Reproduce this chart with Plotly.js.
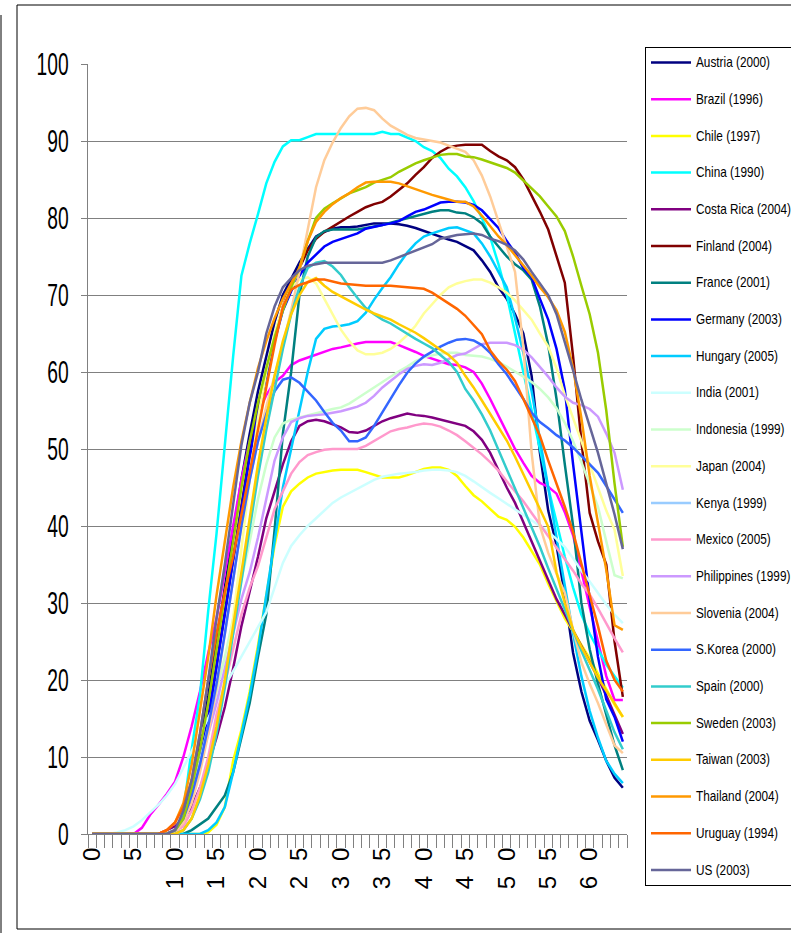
<!DOCTYPE html>
<html>
<head>
<meta charset="utf-8">
<script src="https://cdn.plot.ly/plotly-3.0.1.min.js"></script>
<style>
html,body{margin:0;padding:0;background:#fff;}
#chart .xtick text{letter-spacing:15px;}
</style>
</head>
<body>
<div id="chart" style="width:791px;height:933px;"></div>
<script>
// ages 0..64
var ages = [];
for (var i = 0; i <= 64; i++) ages.push(i);

var xTickVals = [0,5,10,15,20,25,30,35,40,45,50,55,60];
var xTickText = ['0','5','10','15','20','25','30','35','40','45','50','55','60'];
var yTickVals = [0,10,20,30,40,50,60,70,80,90,100];

var names = ['Austria (2000)','Brazil (1996)','Chile (1997)','China (1990)','Costa Rica (2004)','Finland (2004)','France (2001)','Germany (2003)','Hungary (2005)','India (2001)','Indonesia (1999)','Japan (2004)','Kenya (1999)','Mexico (2005)','Philippines (1999)','Slovenia (2004)','S.Korea (2000)','Spain (2000)','Sweden (2003)','Taiwan (2003)','Thailand (2004)','Uruguay (1994)','US (2003)'];

var colors = ['#000080','#FF00FF','#FFFF00','#00FFFF','#800080','#800000','#008080','#0000FF','#00CCFF','#CCFFFF','#CCFFCC','#FFFF99','#99CCFF','#FF99CC','#CC99FF','#FFCC99','#3366FF','#33CCCC','#99CC00','#FFCC00','#FF9900','#FF6600','#666699'];

var austria = [0,0,0,0,0,0,0,0,0,0, 0.5,2.5,6.5,12,18,25,32,39,46,52, 57.5,62,66.5,70,72.2,74.2,76,77.6,78.2,78.6, 78.8,78.8,78.9,79.1,79.3,79.3,79.3,79.2,79,78.7, 78.3,77.9,77.6,77.2,76.9,76.3,75.8,74.5,73,71, 69.5,67.5,65,59.5,49.5,42,37.5,31,23.5,18.5, 14.7,12.2,9.5,7.3,6];
var brazil = [0,0,0,0,0,0,0.8,2.5,3.8,5.2, 6.8,10,14,18.5,23.5,28,34,40,46,51, 54.5,57,58.7,59.5,60.9,61.5,61.9,62.3,62.7,63, 63.2,63.5,63.7,63.9,63.9,63.9,63.9,63.5,63.1,62.6, 62.1,61.7,61.3,61,60.9,60.6,60,58.5,56.5,54.3, 52.2,50,48.2,46.5,45.6,45.1,44.2,41.8,38.8,34, 29.5,25,20.5,17.4,17.4];
var chile = [0,0,0,0,0,0,0,0,0,0, 0,0,0,0,0.2,1.2,3.5,9.5,13.5,18.5, 24.5,31,37.5,42.5,44.5,45.5,46.3,46.8,47,47.2, 47.3,47.3,47.3,47,46.6,46.3,46.3,46.3,46.6,47, 47.4,47.6,47.6,47.3,46.5,45.2,44,43.2,42.2,41.2, 40.8,39.9,38.5,36.7,35,32.5,30.3,28,26.3,24.5, 22.8,20.8,18.8,16.8,15.2];
var china = [0,0,0,0,0,0,0,0,0,0, 0,3,11,18,29,39,51,62,72.5,76.7, 80.5,84.5,87.3,89.3,90.1,90.1,90.5,90.9,90.9,90.9, 90.9,90.9,90.9,90.9,90.9,91.2,90.9,90.9,90.5,90, 89.2,88.7,87.8,86.4,85.4,84,82.2,80,77.5,74, 70,65,60,55,50,45,40.5,36,32,28.5, 26,24,22,20.5,19];
var costaRica = [0,0,0,0,0,0,0,0,0,0.5, 1,2,3.5,6,9,12.5,16.5,21.5,27,31.5, 36,41,44.5,48,51,53,53.6,53.8,53.6,53.2, 52.8,52.2,52.1,52.4,53,53.6,54,54.3,54.6,54.4, 54.3,54.1,53.8,53.5,53.3,53,52.3,51.2,49.5,47.2, 45,43,40.6,38,35.5,33,30.5,28.5,26.5,24.5, 22.5,20.3,18,15.5,13];
var finland = [0,0,0,0,0,0,0,0,0,0, 0.3,1.5,4.5,9,15,22,29,36,43,49.5, 55,60,64.5,68.5,71.5,73.5,75.8,77.3,78.2,78.9, 79.5,80.2,80.8,81.4,81.8,82.1,82.8,83.6,84.5,85.6, 86.6,87.8,88.6,89.2,89.4,89.5,89.5,89.5,88.7,88, 87.5,86.6,85,83,80.8,78.5,75,71.6,62,51, 41.7,38,35,25,17.8];
var france = [0,0,0,0,0,0,0,0,0,0, 0,0,0.5,1.2,2,3.5,5,8,12.5,17, 23,28.5,39.5,52,60,70,75,77.5,78.3,78.5, 78.5,78.5,78.5,78.7,78.9,79.1,79.4,79.7,80,80.3, 80.6,80.8,81,81,80.7,80.6,80.1,79.3,77.6,76.3, 75,74,73.2,72,68.5,63.5,56.5,48,40,30, 24,19.5,15.5,11.5,8.3];
var germany = [0,0,0,0,0,0,0,0,0,0, 0.5,2,5,9.5,15,21.5,28.5,35.5,42.5,49, 54.5,59.5,64,68,70.5,72.5,74.2,75.3,76.3,76.9, 77.3,77.6,78,78.6,78.9,79.1,79.3,79.6,80.2,80.8, 81.1,81.6,82,82.1,82.1,82,81.7,81,79.8,78.7, 77,75.5,73.5,72.3,69.5,66.8,63,57.7,48,39, 30.5,23,17.5,15.2,12];
var hungary = [0,0,0,0,0,0,0,0,0,0, 0,0,0,0,0.5,1.5,3.5,8,13,18, 24,31,38.5,45,50,55,60,64.3,65.6,65.9, 66,66.2,66.6,67.7,69.4,70.9,72.3,74,75.5,76.7, 77.6,78,78.4,78.7,78.8,78.4,78,76.7,75,73, 71,67,62.5,57.5,51.5,45,38.5,32,26,20.5, 16,12.5,9.5,7.8,6.6];
var india = [0,0,0,0.2,0.5,1,1.8,2.8,3.8,5, 6.5,8.6,10.8,12.9,15,17.2,19.2,21.1,23,25, 26.9,28.8,32,35.2,37.4,38.8,40,41,42,43, 43.7,44.3,44.9,45.4,46,46.4,46.6,46.8,46.9,47, 47.2,47.3,47.3,47.2,47,46.5,45.8,45,44.3,43.6, 42.9,42.2,41.5,40.8,40.1,39.3,38.3,37.3,35.8,34.2, 32.8,31.3,29.8,28.5,27.4];
var indonesia = [0,0,0,0,0,0,0,0,0,0, 0.5,2,5,9.5,14,18.5,23,28,33,38, 43.5,48,51.5,53.3,53.8,54.1,54.4,54.7,55,55.2, 55.4,55.9,56.6,57.3,58,58.8,59.5,60.1,60.7,61.4, 61.9,62.2,62.4,62.5,62.5,62.2,62.1,62,61.7,61.3, 60.7,60.1,59.4,58.7,57.8,56.7,55.3,53.4,51,48.3, 45.3,42.5,38,33.6,33.2];
var japan = [0,0,0,0,0,0,0,0,0,0, 0,0.5,2,5,9,14,20,28,37,46, 54,60,65,68.5,71,72,72.3,71.5,69.5,67.5, 65.5,64,62.8,62.3,62.3,62.5,63,63.8,64.8,66, 67.6,68.8,70,71,71.5,71.8,72,72,71.6,71, 70.3,69.3,68,66.8,65,63.3,60.5,57,54,51, 48,45,42,39.5,33.5];
var kenya = [null,null,null,null,null,null,null,null,null,null, null,null,null,null,null,null,null,null,null,null, null,null,null,null,null,null,null,null,null,null, null,null,null,null,null,null,null,null,null,null, null,null,null,null,null,null,null,null,null,null, null,null,null,null,null,null,null,null,null,null, null,null,null,null,null];
var mexico = [0,0,0,0,0,0,0,0,0,0, 0.3,1,3,6,10,15.5,19.5,24,28.5,32, 34.8,38.5,42.2,44.5,46.8,48.3,49.2,49.6,49.9,50, 50,50,50,50.4,51,51.7,52.3,52.6,52.8,53.1, 53.3,53.2,52.9,52.4,51.8,51,50.2,49.3,48.3,47.2, 45.8,44.5,43.2,41.7,40.2,38.7,37.2,35.8,34.2,32.5, 31.1,29.3,27.3,25.4,23.6];
var philippines = [0,0,0,0,0,0,0,0,0,0, 0.5,2,5,9,13,17,21.5,26,30.5,34, 38.5,43.5,48.5,51.5,53.5,54,54.3,54.4,54.5,54.7, 54.9,55.2,55.5,56,56.9,58,58.9,59.7,60.4,60.8, 61,60.9,61.2,61.7,62.2,62.4,63,63.6,63.8,63.8, 63.8,63.5,62.9,61.9,60.7,59.4,58,56.8,56,55.7, 55.2,54.2,52,49.5,44.7];
var slovenia = [0,0,0,0,0,0,0,0,0,0, 0.3,1.5,4,8,13,19,26,33,40,46, 51,55.5,59.5,63.5,68,73,78.5,84,87.5,89.8, 91.7,93.2,94.2,94.3,94,92.9,92,91.4,90.8,90.4, 90.2,90,89.8,89.4,89,88.6,87.5,85.5,82.8,79.5, 76,73,63.2,49.5,40,36.5,33.8,31.3,26.5,22.3, 19.5,17,14.2,11.5,10.5];
var sKorea = [0,0,0,0,0,0,0,0,0,0, 0.5,2,5,9,14,19.5,26,33,40,46, 51,54.5,57.5,59,59.3,58.6,57.5,56.3,54.8,53.4, 52.4,51,51,51.5,53,54.8,56.6,58.3,59.9,61.1, 62,62.7,63.3,63.8,64.2,64.3,64.1,63.5,62.5,61, 59.7,58.1,56.5,54.7,53.5,52.7,51.8,51.1,50.2,49.1, 48,46.9,45.2,43.4,41.7];
var spain = [0,0,0,0,0,0,0,0,0,0, 0,0.5,2,4.5,8,13,19,26,33,40, 46.5,52.5,58,63,67.5,71,73.5,74.2,74.4,73.7, 72.6,71,69.6,68.3,67.5,66.8,66.3,65.6,64.9,64.3, 63.7,63.1,62.2,61.3,60,57.8,56.3,54.5,52.4,49.9, 47.4,44.8,42.3,39.8,37.3,34.5,31.8,29,26.3,23.8, 21.3,18.8,16,13.2,11];
var sweden = [0,0,0,0,0,0,0,0,0,0, 0.5,2,6,11,17,24,31,38,45,51, 56,60.5,64.5,68,71,73.5,77,80,81.2,81.9, 82.5,83.2,83.6,84,84.6,85,85.3,86,86.6,87.1, 87.5,87.9,88.2,88.3,88.3,88,87.9,87.6,87.2,86.8, 86.5,85.9,84.9,83.8,82.8,81.5,80.2,78.3,75,71.2, 67.5,62.5,55,45.5,37.3];
var taiwan = [0,0,0,0,0,0,0,0,0,0, 0,0.5,2,5,9,14,20,27,34,41, 48,54,59.5,64,67.5,70,71.7,72.2,71.2,70.4, 69.8,69.2,68.6,68.1,67.6,67.2,66.8,66.2,65.7,65.1, 64.4,63.6,62.9,62.2,61.2,59.5,58,56.3,54.6,52.8, 51.1,49,46.8,44.5,42.2,39.9,34,30,26.5,24.3, 22.3,20.3,18.6,17,15.2];
var thailand = [0,0,0,0,0,0,0,0,0,0.5, 1.5,4,9,16,23,31,38,45,51,56, 60.5,64,67,69.5,71.5,73.5,77,79.5,80.8,81.8, 82.6,83.2,84,84.6,84.7,84.7,84.7,84.5,84.1,83.7, 83.3,83,82.7,82.4,82.1,82.1,81.5,80.3,79,77.6, 76.5,75.2,73.8,72.5,71,69.7,68,65.2,60.5,54, 46.5,40.5,34.3,27.1,26.5];
var uruguay = [0,0,0,0,0,0,0,0,0,0.5, 1.5,3.5,7,13,20,26,31.5,36,41.5,47.5, 52.5,58,63.5,68.5,70.7,71.3,71.7,72,72,71.7, 71.5,71.4,71.3,71.2,71.2,71.2,71.2,71.1,71,70.9, 70.8,70.3,69.6,69,68.2,67.3,66.1,64.9,62.8,61.4, 60.3,58.8,56.5,54,51.7,48.5,45.5,42.5,39.2,35, 31,27,22.5,20,18.5];
var us = [0,0,0,0,0,0,0,0,0,0, 0.5,3,7,13,20,28,35,43,50.5,56, 60,65,68.5,71,72.2,73.2,73.8,74,74.2,74.2, 74.2,74.2,74.2,74.2,74.2,74.2,74.5,74.9,75.3,75.7, 76.2,76.6,77.3,77.6,77.8,77.9,78,77.8,77.3,77, 76.5,75.8,74.6,73,71.5,70,67.5,64,60.2,56.4, 52.8,49.5,45.5,41.5,37];

var series = [austria, brazil, chile, china, costaRica, finland, france, germany, hungary, india, indonesia, japan, kenya, mexico, philippines, slovenia, sKorea, spain, sweden, taiwan, thailand, uruguay, us];

var traces = [];
for (var k = 0; k < series.length; k++) {
  traces.push({
    type: 'scatter', mode: 'lines',
    x: ages, y: series[k],
    name: names[k], legendgroup: 'g' + k,
    line: {color: colors[k], width: 2.5},
    hoverinfo: 'skip'
  });
}

function px2x(px) { return (px - 88) / 539; }
function py2y(py) { return (834 - py) / 770; }

var layout = {
  width: 791, height: 933,
  margin: {l: 88, r: 164, t: 64, b: 99, pad: 0, autoexpand: false},
  paper_bgcolor: '#ffffff', plot_bgcolor: '#ffffff',
  showlegend: true,
  xaxis: {
    range: [-0.5, 64.5], tickmode: 'array', tickvals: xTickVals, ticktext: xTickText,
    tickangle: -90, ticks: '', showgrid: false, zeroline: false,
    showline: true, linecolor: '#808080', linewidth: 1,
    tickfont: {family: 'Liberation Sans, Arial, sans-serif', size: 24, color: '#000'},
    ticklabelstandoff: -12,
    minor: {tick0: 0.5, dtick: 1, ticks: 'outside', ticklen: 13, tickcolor: '#808080', tickwidth: 1, showgrid: false},
    automargin: false, fixedrange: true
  },
  yaxis: {
    range: [0, 100], tickmode: 'array', tickvals: yTickVals,
    ticks: 'outside', ticklen: 6, tickcolor: '#808080', tickwidth: 1,
    showgrid: true, gridcolor: '#808080', gridwidth: 1,
    showline: true, linecolor: '#808080', linewidth: 1, zeroline: false,
    tickfont: {family: 'Liberation Sans, Arial, sans-serif', size: 32, color: '#000'},
    ticklabelstandoff: 6,
    automargin: false, fixedrange: true
  },
  legend: {
    xref: 'container', yref: 'container',
    x: 645 / 791, xanchor: 'left', y: 1 - 47 / 933, yanchor: 'top',
    bgcolor: '#ffffff', bordercolor: '#000000', borderwidth: 1,
    font: {family: 'Liberation Sans, Arial, sans-serif', size: 11.8, color: '#000'},
    itemwidth: 40, tracegroupgap: 17.7, traceorder: 'grouped', maxheight: 920
  },
  shapes: [
    {type: 'rect', xref: 'paper', yref: 'paper', x0: px2x(17), x1: px2x(793), y0: py2y(929), y1: py2y(5), line: {color: '#000', width: 1}},
    {type: 'line', xref: 'paper', yref: 'paper', x0: px2x(1), x1: px2x(1), y0: py2y(933), y1: py2y(15), line: {color: '#000', width: 1}}
  ]
};

function squeeze(sel, f) {
  var nodes = document.querySelectorAll(sel);
  for (var n = 0; n < nodes.length; n++) {
    var t = nodes[n];
    var w = t.getComputedTextLength();
    if (w > 0) {
      t.setAttribute('textLength', (w * f).toFixed(1));
      t.setAttribute('lengthAdjust', 'spacingAndGlyphs');
    }
  }
}

function stretchY(sel, f) {
  var nodes = document.querySelectorAll(sel);
  for (var n = 0; n < nodes.length; n++) {
    var t = nodes[n];
    var y = parseFloat(t.getAttribute('y')) || 0;
    t.setAttribute('transform', 'translate(0,' + y + ') scale(1,' + f + ') translate(0,' + (-y) + ')');
  }
}

Plotly.newPlot('chart', traces, layout, {staticPlot: true, displayModeBar: false}).then(function () {
  squeeze('#chart .ytick text', 0.6);
  stretchY('#chart .legendtext', 1.25);
});
</script>
</body>
</html>
